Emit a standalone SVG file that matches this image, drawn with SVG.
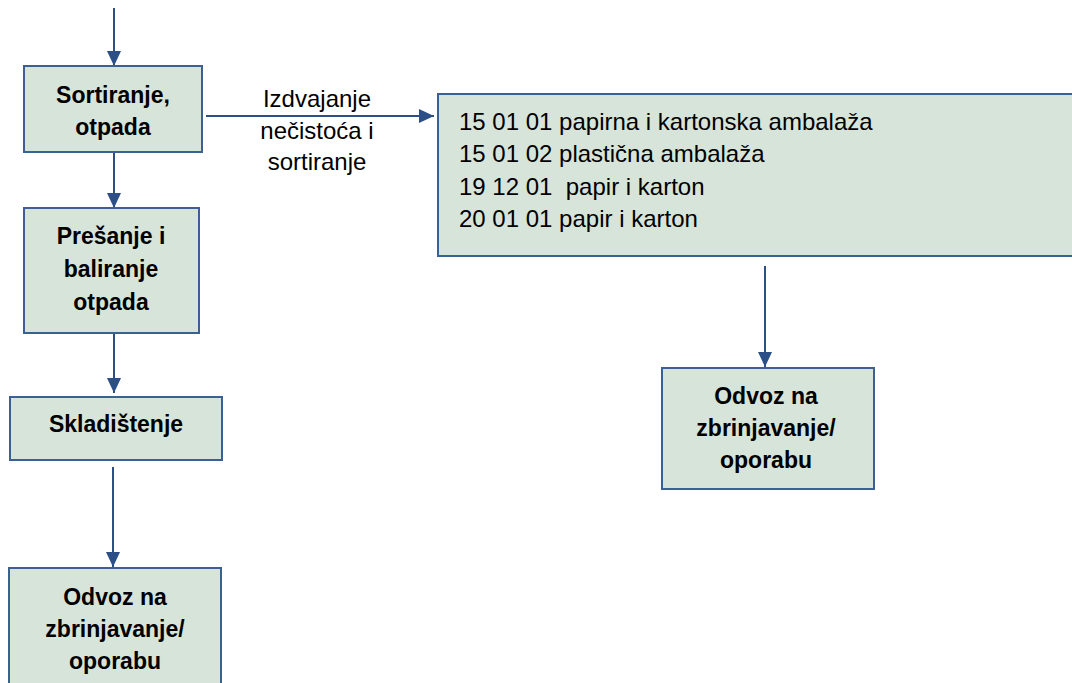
<svg xmlns="http://www.w3.org/2000/svg" width="1072" height="683" viewBox="0 0 1072 683">
<defs>
<style>
.box{fill:#D7E4D9;stroke:#3A6096;stroke-width:2}
.b{font-family:"Liberation Sans",Arial,sans-serif;font-weight:bold;font-size:23px;fill:#000;text-anchor:middle}
.r{font-family:"Liberation Sans",Arial,sans-serif;font-size:24px;fill:#000}
.c{text-anchor:middle}
.con{stroke:#2B4F86;stroke-width:2;fill:none;marker-end:url(#ah)}
</style>
<marker id="ah" viewBox="0 0 15 14" refX="15" refY="7" markerWidth="15" markerHeight="14" markerUnits="userSpaceOnUse" orient="auto">
<path d="M0,0 L15,7 L0,14 z" fill="#2B4F86"/>
</marker>
</defs>
<rect width="1072" height="683" fill="#fff"/>
<g id="connectors">
<line class="con" x1="114" y1="8" x2="114" y2="66"/>
<line class="con" x1="114" y1="153" x2="114" y2="208"/>
<line class="con" x1="114" y1="333" x2="114" y2="393"/>
<line class="con" x1="113" y1="467" x2="113" y2="567"/>
<line class="con" x1="206" y1="116" x2="434" y2="116"/>
<line class="con" x1="765" y1="266" x2="765" y2="367"/>
<g id="label-izdvajanje">
<text class="r c" x="317" y="107">Izdvajanje</text>
<text class="r c" x="317" y="139">nečistoća i</text>
<text class="r c" x="317" y="170">sortiranje</text>
</g>
</g>
<g id="node-sortiranje">
<rect class="box" x="24" y="66" width="178" height="86"/>
<text class="b" x="113" y="103">Sortiranje,</text>
<text class="b" x="113" y="135">otpada</text>
</g>
<g id="node-presanje">
<rect class="box" x="24" y="208" width="175" height="125"/>
<text class="b" x="111" y="244">Prešanje i</text>
<text class="b" x="111" y="277">baliranje</text>
<text class="b" x="111" y="310">otpada</text>
</g>
<g id="node-skladistenje">
<rect class="box" x="10" y="397" width="212" height="63"/>
<text class="b" x="116" y="432">Skladištenje</text>
</g>
<g id="node-odvoz-left">
<rect class="box" x="9" y="568" width="212" height="125"/>
<text class="b" x="115" y="605">Odvoz na</text>
<text class="b" x="115" y="637">zbrinjavanje/</text>
<text class="b" x="115" y="669">oporabu</text>
</g>
<g id="node-otpad-list">
<rect class="box" x="438" y="94" width="650" height="162"/>
<text class="r" x="459" y="130">15 01 01 papirna i kartonska ambalaža</text>
<text class="r" x="459" y="162">15 01 02 plastična ambalaža</text>
<text class="r" x="459" y="195" xml:space="preserve">19 12 01  papir i karton</text>
<text class="r" x="459" y="227">20 01 01 papir i karton</text>
</g>
<g id="node-odvoz-right">
<rect class="box" x="662" y="368" width="212" height="121"/>
<text class="b" x="766" y="404">Odvoz na</text>
<text class="b" x="766" y="436">zbrinjavanje/</text>
<text class="b" x="766" y="468">oporabu</text>
</g>
</svg>
